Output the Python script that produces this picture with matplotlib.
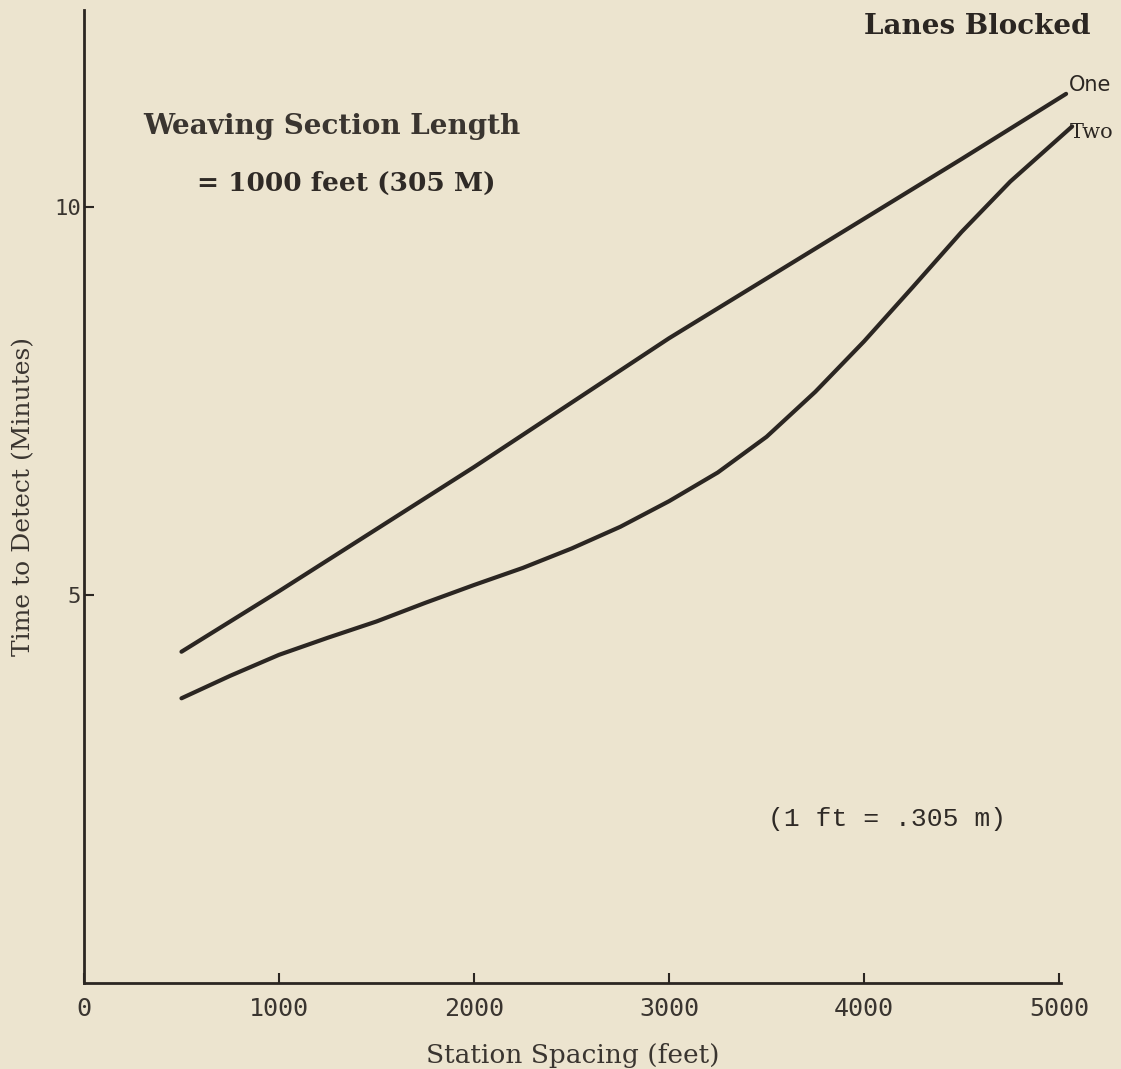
import matplotlib.pyplot as plt

plt.rcParams['font.family'] = 'DejaVu Serif'

bg = '#ece4cf'
ink = '#2b2622'

# station spacing (feet) and time to detect (minutes)
one_x = [500, 1000, 1500, 2000, 2500, 3000, 3500, 4000, 4500, 5036]
one_y = [4.27, 5.05, 5.85, 6.65, 7.48, 8.31, 9.08, 9.85, 10.62, 11.46]
two_x = [500, 750, 1000, 1250, 1500, 1750, 2000, 2250, 2500, 2750, 3000,
         3250, 3500, 3750, 4000, 4250, 4500, 4750, 5067]
two_y = [3.67, 3.96, 4.23, 4.45, 4.66, 4.90, 5.13, 5.35, 5.60, 5.88, 6.21,
         6.58, 7.04, 7.62, 8.27, 8.97, 9.68, 10.33, 11.04]

xticks = [0, 1000, 2000, 3000, 4000, 5000]
xticklabels = ['0', '1000', '2000', '3000', '4000', '5000']
yticks = [5, 10]
yticklabels = ['5', '10']

fig = plt.figure(figsize=(11.21, 10.69), dpi=100, facecolor=bg)
ax = fig.add_axes([0.0749, 0.0804, 0.8716, 0.9102])
ax.set_facecolor(bg)

ax.plot(one_x, one_y, color=ink, lw=3, solid_capstyle='round', clip_on=False)
ax.plot(two_x, two_y, color=ink, lw=3, solid_capstyle='round', clip_on=False)

ax.set_xlim(0, 5010)
ax.set_ylim(0, 12.54)
for s in ['top', 'right']:
    ax.spines[s].set_visible(False)
for s in ['left', 'bottom']:
    ax.spines[s].set_color(ink)
    ax.spines[s].set_linewidth(2)

ax.set_xticks(xticks)
ax.set_xticklabels(xticklabels, family='DejaVu Sans Mono', fontsize=18, color='#3a3530')
ax.set_yticks(yticks)
ax.set_yticklabels(yticklabels, family='DejaVu Sans Mono', fontsize=16, color='#3a3530')
ax.tick_params(axis='both', direction='in', length=7, width=1.5, color=ink)
ax.tick_params(axis='x', pad=10)
ax.tick_params(axis='y', pad=2)

ax.set_xlabel('Station Spacing (feet)', fontsize=19, color='#3a3530', labelpad=16)
ax.set_ylabel('Time to Detect (Minutes)', fontsize=18, color='#3a3530', labelpad=14)

ax.text(one_x[-1] + 15, one_y[-1] + 0.12, 'One', fontsize=15, color=ink,
        family='DejaVu Sans', ha='left', va='center', clip_on=False)
ax.text(two_x[-1] - 10, two_y[-1] - 0.08, 'Two', fontsize=15, color=ink,
        family='DejaVu Serif', ha='left', va='center', clip_on=False)

fig.text(0.973, 0.975, 'Lanes Blocked', fontsize=20, color=ink, ha='right', va='center',
         fontweight='semibold')
fig.text(0.128, 1 - 126 / 1069, 'Weaving Section Length', fontsize=20, color='#3a3530',
         ha='left', va='center', fontweight='semibold')
fig.text(0.176, 1 - 183 / 1069, '= 1000 feet (305 M)', fontsize=19, color='#2f2a26',
         ha='left', va='center', fontweight='semibold')
fig.text(0.685, 1 - 819 / 1069, '(1 ft = .305 m)', fontsize=19, color='#2f2a26',
         family='Liberation Mono', ha='left', va='center')

fig.savefig('out.png', dpi=100, facecolor=bg)
